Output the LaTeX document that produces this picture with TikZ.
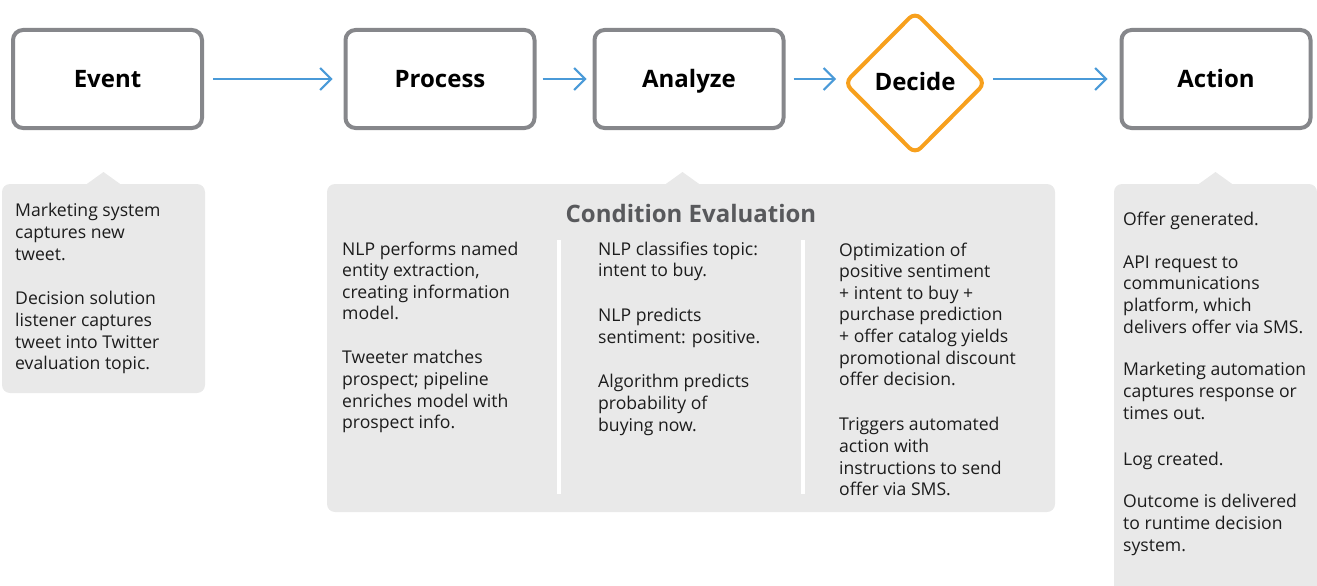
\documentclass[tikz,border=0pt]{standalone}
\usepackage{fontspec}
\setmainfont{Open Sans}
\usetikzlibrary{arrows.meta,shapes.geometric}

\definecolor{boxgray}{HTML}{86878B}
\definecolor{flowblue}{HTML}{4A9AD8}
\definecolor{decideorange}{HTML}{F7A01D}
\definecolor{panel}{HTML}{E9E9E9}
\definecolor{ink}{HTML}{1C1C1C}
\definecolor{heading}{HTML}{58595C}

\begin{document}
\begin{tikzpicture}[x=1pt,y=-1pt,
  stagebox/.style={draw=boxgray, line width=4pt, rounded corners=10pt, fill=white,
    minimum width=189pt, minimum height=98pt, inner sep=0pt},
  decidebox/.style={draw=decideorange, line width=4pt, diamond, rounded corners=8pt,
    fill=white, minimum width=142pt, minimum height=143pt, inner sep=0pt},
  stagelabel/.style={font=\fontsize{24}{28}\selectfont\bfseries, text=black,
    anchor=base, inner sep=0pt},
  flow/.style={draw=flowblue, line width=2pt, -{Straight Barb[length=11pt,width=22pt]}},
  panelfill/.style={fill=panel},
  % notes are placed by the baseline of their first line
  note/.style={font=\fontsize{17.6}{21.6}\selectfont, text=ink, align=left,
    anchor=north west, inner sep=0pt, yshift=13.6pt,
    execute at begin node=\strut},
  divider/.style={draw=white, line width=4pt}
]
\useasboundingbox (0,0) rectangle (1317,586);

% ---- process stages ----
\node[stagebox] (event)   at (107.5,79) {};
\node[stagebox] (process) at (440,79)   {};
\node[stagebox] (analyze) at (689,79)   {};
\node[decidebox] (decide) at (915,83)   {};
\node[stagebox] (action)  at (1216,79)  {};

\node[stagelabel] (eventtext)   at (107.5,87) {Event};
\node[stagelabel] (processtext) at (440,87)   {Process};
\node[stagelabel] (analyzetext) at (689,87)   {Analyze};
\node[stagelabel] (decidetext)  at (915,91)   {Decide};
\node[stagelabel] (actiontext)  at (1216,87)  {Action};

% ---- flow arrows ----
\draw[flow, shorten <=9pt, shorten >=11pt] (event.east) -- (process.west);
\draw[flow, shorten <=6pt, shorten >=6pt] (process.east) -- (analyze.west);
\draw[flow, shorten <=8pt, shorten >=6pt] (analyze.east) -- (analyze.east -| decide.west);
\draw[flow, shorten <=5pt, shorten >=12pt] (decide.east |- action.west) -- (action.west);

% ---- callout panels ----
\fill[panelfill, rounded corners=8pt] (2,184) rectangle (205,393);
\fill[panelfill] (84,186) -- (103.5,172) -- (123,186) -- cycle;

\fill[panelfill, rounded corners=8pt] (327,184) rectangle (1055,512);
\fill[panelfill] (663,186) -- (682.5,172) -- (702,186) -- cycle;

\fill[panelfill, rounded corners=8pt] (1114,184) rectangle (1317,620);
\fill[panelfill] (1196,186) -- (1215.5,172) -- (1235,186) -- cycle;

\draw[divider] (559,240) -- (559,494);
\draw[divider] (803,240) -- (803,494);

% ---- event notes ----
\node[note] (ev1) at (15,217) {Marketing system\\captures new\\tweet.};
\node[note] (ev2) at (15,305) {Decision solution\\listener captures\\tweet into Twitter\\evaluation topic.};

% ---- condition evaluation ----
\node[font=\fontsize{24}{28}\selectfont\bfseries, text=heading, anchor=base, inner sep=0pt]
  (condhead) at (691,222) {Condition Evaluation};

\node[note] (pr1) at (342,255) {NLP performs named\\entity extraction,\\creating information\\model.};
\node[note] (pr2) at (342,364) {Tweeter matches\\prospect; pipeline\\enriches model with\\prospect info.};

\node[note] (an1) at (598,255) {NLP classifies topic:\\intent to buy.};
\node[note] (an2) at (598,322) {NLP predicts\\sentiment: positive.};
\node[note] (an3) at (598,388) {Algorithm predicts\\probability of\\buying now.};

\node[note] (de1) at (839,256) {Optimization of\\positive sentiment\\+ intent to buy +\\purchase prediction\\+ offer catalog yields\\promotional discount\\offer decision.};
\node[note] (de2) at (839,431) {Triggers automated\\action with\\instructions to send\\offer via SMS.};

% ---- action notes ----
\node[note] (ac1) at (1123,224) {Offer generated.};
\node[note] (ac2) at (1123,269) {API request to\\communications\\platform, which\\delivers offer via SMS.};
\node[note] (ac3) at (1123,376) {Marketing automation\\captures response or\\times out.};
\node[note] (ac4) at (1123,464) {Log created.};
\node[note] (ac5) at (1123,508) {Outcome is delivered\\to runtime decision\\system.};
\end{tikzpicture}
\end{document}
